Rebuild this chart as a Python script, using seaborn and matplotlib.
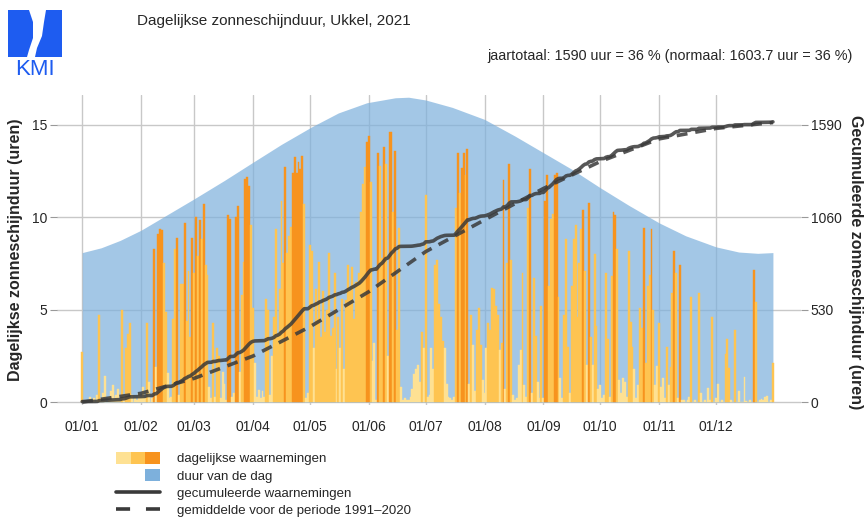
import numpy as np
import pandas as pd
import seaborn as sns
import matplotlib.pyplot as plt
from matplotlib.patches import Patch, Polygon
from matplotlib.lines import Line2D
from matplotlib.legend_handler import HandlerTuple

jan = [2.7, 0.0, 0.1, 0.0, 0.3, 0.0, 0.2, 0.0, 0.4, 4.7, 0.2, 0.5, 1.4, 0.0, 0.3, 0.6,
       0.9, 0.2, 0.4, 0.7, 0.1, 5.0, 0.3, 2.9, 3.7, 4.3, 0.4, 0.0, 0.2, 0.1, 0.5]
feb = [0.3, 0.8, 0.2, 4.3, 1.1, 0.0, 0.2, 8.3, 1.9, 9.1, 9.35, 9.3, 7.5, 4.9, 1.55, 0.2,
       0.3, 4.5, 8.3, 8.9, 0.4, 6.4, 6.4, 9.7, 4.4, 7.1, 3.5, 8.9]
mrt = [7.0, 10.0, 7.9, 9.85, 8.8, 10.7, 7.4, 6.9, 0.8, 0.2, 4.3, 0.3, 2.9, 2.5, 0.2, 1.6,
       1.0, 0.1, 10.1, 9.9, 0.3, 0.5, 10.0, 10.6, 1.6, 5.8, 7.6, 12.1, 12.2, 11.7, 9.6]
apr = [5.1, 2.1, 0.3, 0.65, 0.2, 0.6, 0.3, 5.6, 5.0, 0.4, 2.5, 4.6, 9.35, 3.7, 6.1, 10.9,
       7.5, 12.7, 8.05, 9.0, 9.5, 12.4, 13.25, 12.4, 13.0, 12.6, 13.3, 10.7, 0.2, 0.5]
mei = [8.5, 8.2, 2.9, 6.1, 4.5, 7.6, 3.5, 6.0, 3.8, 5.0, 8.05, 3.6, 4.0, 7.0, 1.8, 4.6,
       2.9, 5.6, 1.8, 5.5, 7.4, 6.0, 7.3, 4.5, 6.5, 6.5, 7.0, 10.3, 11.8, 12.7, 14.1]
jun = [14.4, 11.9, 2.2, 3.2, 0.1, 13.5, 12.8, 7.8, 13.8, 12.9, 2.5, 14.6, 14.6, 10.3,
       13.6, 3.9, 9.4, 0.8, 0.1, 0.2, 0.1, 0.1, 0.3, 0.7, 1.5, 1.8, 2.0, 1.1, 3.8, 2.9]
jul = [11.2, 0.3, 0.4, 2.9, 1.8, 7.4, 7.7, 5.3, 4.6, 3.3, 2.9, 1.0, 0.3, 0.2, 0.1, 0.3,
       10.5, 13.5, 11.3, 12.65, 13.5, 12.3, 13.7, 1.0, 4.7, 3.1, 0.6, 3.9, 5.1, 3.1, 1.2]
aug = [0.5, 2.9, 4.3, 3.9, 6.2, 6.1, 5.2, 4.7, 2.8, 3.2, 12.0, 0.7, 7.5, 12.9, 7.7, 0.4,
       0.1, 0.2, 2.0, 2.8, 7.0, 0.9, 0.3, 10.5, 12.6, 0.5, 6.7, 3.6, 1.1, 0.2, 5.2]
sep = [0.2, 10.9, 12.3, 6.3, 9.9, 10.2, 12.3, 12.4, 5.7, 1.3, 0.2, 4.7, 8.8, 3.0, 0.5,
       6.3, 8.8, 9.6, 4.6, 7.5, 9.35, 10.4, 7.1, 2.0, 10.8, 3.5, 2.0, 8.0, 4.1, 0.7]
okt = [0.9, 0.2, 0.4, 7.0, 3.4, 0.3, 6.8, 10.3, 10.1, 8.3, 1.2, 0.5, 1.3, 1.1, 0.3, 8.2,
       4.35, 3.0, 1.8, 0.2, 0.9, 5.1, 4.0, 9.4, 2.1, 6.3, 6.9, 9.35, 5.0, 0.9, 1.95]
nov = [4.3, 0.8, 1.3, 0.2, 3.0, 0.9, 1.9, 5.9, 8.2, 7.0, 0.2, 7.4, 0.1, 0.1, 0.0, 0.1,
       0.25, 5.7, 0.0, 0.1, 0.0, 5.9, 0.5, 0.0, 0.1, 0.0, 0.75, 0.1, 4.6, 0.0]
dec = [0.2, 1.0, 0.0, 0.1, 0.0, 2.6, 3.4, 1.85, 0.1, 0.0, 3.9, 0.0, 0.6, 0.0, 0.0, 1.35,
       0.05, 0.0, 0.1, 0.0, 7.15, 5.4, 0.0, 0.1, 0.15, 0.1, 0.3, 0.35, 0.0, 0.1, 2.1]

maand_labels = ['01/01', '01/02', '01/03', '01/04', '01/05', '01/06',
                '01/07', '01/08', '01/09', '01/10', '01/11', '01/12']
maand_start = [0, 31, 59, 90, 120, 151, 181, 212, 243, 273, 304, 334]

# duur van de dag (uren) op enkele dagen
daglengte_dag = [0, 10, 20, 31, 45, 59, 75, 90, 105, 121, 135, 150, 165, 172, 181,
                 195, 212, 228, 243, 258, 273, 288, 304, 318, 334, 346, 356, 364]
daglengte_uren = [8.09, 8.35, 8.75, 9.3, 10.15, 11.0, 12.0, 12.98, 13.95, 14.9, 15.65,
                  16.2, 16.47, 16.5, 16.35, 15.95, 15.3, 14.4, 13.5, 12.6, 11.6, 10.65,
                  9.7, 9.0, 8.4, 8.12, 8.05, 8.09]

# gemiddelde 1991-2020, gecumuleerd op de eerste van elke maand en einde jaar
normaal_dag = maand_start + [364]
normaal_cum = [0, 50, 136, 264, 432, 633, 863, 1045, 1225, 1380, 1510, 1570, 1603.7]

links_ticks = [0, 5, 10, 15]
rechts_ticks = [0, 530, 1060, 1590]

bleek, midden, donker = '#FEE193', '#FEC451', '#F7931E'
blauw = '#7DB0DC'
lijn = '#3A3A3A'

uren = np.array(jan + feb + mrt + apr + mei + jun + jul + aug + sep + okt + nov + dec)
dagen = np.arange(len(uren))
fractie = uren / np.interp(dagen, daglengte_dag, daglengte_uren)
kleur = np.where(fractie > 0.8, donker, np.where(fractie < 0.2, bleek, midden))

sns.set_style('white')
plt.rcParams['font.family'] = ['Liberation Sans', 'DejaVu Sans']

fig = plt.figure(figsize=(8.64, 5.2), dpi=100)
ax = fig.add_axes([57 / 864, 115 / 520, 744 / 864, 310 / 520])

ax.fill_between(daglengte_dag, daglengte_uren, color=blauw, alpha=0.7, lw=0, zorder=1)
ax.bar(dagen, uren, width=1.0, color=kleur, edgecolor=kleur, linewidth=0.3, zorder=2)

ylim = (-0.16, 16.62)
ax.set_xlim(-13.3, 378.8)
ax.set_ylim(*ylim)
ax.set_xticks(maand_start)
ax.set_xticklabels(maand_labels)
ax.set_yticks(links_ticks)
ax.grid(True, color='#C8C8C8', lw=1)
ax.set_axisbelow(True)
ax.set_ylabel('Dagelijkse zonneschijnduur (uren)', fontweight='bold', fontsize=11.5)
ax.yaxis.set_label_coords(-0.046, 0.5)
ax.tick_params(axis='x', length=8, color='#999999', pad=3, labelsize=10)
ax.tick_params(axis='y', length=5, color='#999999', pad=2, labelsize=10)
sns.despine(ax=ax, left=True, bottom=True)

schaal = rechts_ticks[-1] / links_ticks[-1]
ax2 = ax.twinx()
sns.lineplot(x=dagen, y=np.cumsum(uren), color=lijn, lw=2.6, alpha=0.85, errorbar=None, ax=ax2)
sns.lineplot(x=normaal_dag, y=normaal_cum, color=lijn, lw=2.6, alpha=0.85, errorbar=None,
             linestyle=(0, (3, 2.2)), ax=ax2)
ax2.set_ylim(ylim[0] * schaal, ylim[1] * schaal)
ax2.set_yticks(rechts_ticks)
ax2.grid(False)
ax2.set_ylabel('Gecumuleerde zonneschijnduur (uren)', fontweight='bold', fontsize=11.5,
               rotation=270, va='center')
ax2.yaxis.set_label_coords(1.073, 0.46)
ax2.tick_params(axis='y', length=5, color='#999999', pad=2, labelsize=10)
for s in ax2.spines.values():
    s.set_visible(False)

fig.text(137 / 864, 1 - 21 / 520, 'Dagelijkse zonneschijnduur, Ukkel, 2021',
         fontsize=11, va='center')
fig.text(853 / 864, 1 - 56 / 520,
         'jaartotaal: 1590 uur = 36 % (normaal: 1603.7 uur = 36 %)',
         fontsize=10.4, ha='right', va='center')

# legende
leeg = Patch(fc='none', ec='none')
handles = [(Patch(fc=bleek, lw=0), Patch(fc=midden, lw=0), Patch(fc=donker, lw=0)),
           (leeg, leeg, Patch(fc=blauw, lw=0)),
           Line2D([], [], color=lijn, lw=2.6),
           Line2D([], [], color=lijn, lw=2.6, linestyle=(0, (3.9, 4.4)))]
labels = ['dagelijkse waarnemingen', 'duur van de dag',
          'gecumuleerde waarnemingen', 'gemiddelde voor de periode 1991\u20132020']
fig.legend(handles, labels, handler_map={tuple: HandlerTuple(ndivide=None, pad=0)},
           loc='upper left', bbox_to_anchor=(116 / 864, 1 - 452 / 520), frameon=False,
           handlelength=3.3, handleheight=1.0, handletextpad=1.35, labelspacing=0.29,
           borderpad=0, borderaxespad=0, fontsize=9.5)

# KMI-logo
logo = fig.add_axes([8 / 864, 1 - 77 / 520, 54 / 864, 67 / 520])
logo.set_xlim(0, 54)
logo.set_ylim(67, 0)
logo.axis('off')
kmi = '#1E5CF0'
logo.add_patch(Polygon([(0, 0), (21, 0), (25, 12), (25, 28), (21, 40), (19, 47), (0, 47)],
                       closed=True, fc=kmi, ec='none'))
logo.add_patch(Polygon([(38, 0), (54, 0), (54, 47), (27, 47), (29, 38), (34, 26), (36, 12)],
                       closed=True, fc=kmi, ec='none'))
logo.text(27, 65, 'KMI', color=kmi, fontsize=16, ha='center', va='baseline')

fig.savefig('out.png', dpi=100)
